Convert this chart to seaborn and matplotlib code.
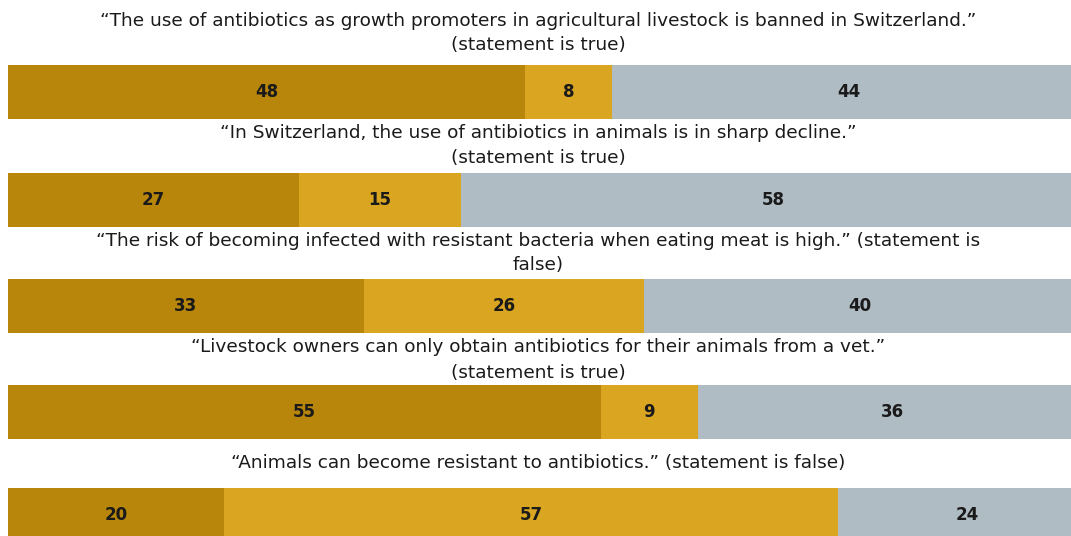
import matplotlib
matplotlib.use("Agg")
import matplotlib.pyplot as plt
import seaborn as sns
import numpy as np

sns.set_theme(style="white")
plt.rcParams['font.family'] = ['DejaVu Sans']

statements = [
    "\u201cThe use of antibiotics as growth promoters in agricultural livestock is banned in Switzerland.\u201d\n(statement is true)",
    "\u201cIn Switzerland, the use of antibiotics in animals is in sharp decline.\u201d\n(statement is true)",
    "\u201cThe risk of becoming infected with resistant bacteria when eating meat is high.\u201d (statement is\nfalse)",
    "\u201cLivestock owners can only obtain antibiotics for their animals from a vet.\u201d\n(statement is true)",
    "\u201cAnimals can become resistant to antibiotics.\u201d (statement is false)",
]
seg1 = [48, 27, 33, 55, 20]
seg2 = [8, 15, 26, 9, 57]
seg3 = [44, 58, 40, 36, 24]

colors = ["#B8860B", "#DAA520", "#B0BCC3"]

W, H = 1071, 536
fig = plt.figure(figsize=(W / 100, H / 100), dpi=100)

bar_tops = [65, 173, 279, 385, 488]
bar_h = 54
title_y = [33, 145.5, 253, 360, 463]
x0_px = 8
unit_px = 10.78

for i in range(5):
    top = bar_tops[i]
    ax = fig.add_axes([x0_px / W, (H - top - bar_h) / H, 100 * unit_px / W, bar_h / H])
    segs = [seg1[i], seg2[i], seg3[i]]
    cums = np.cumsum(segs)
    # draw back-to-front so the stacked look emerges
    for k in (2, 1, 0):
        sns.barplot(x=[cums[k]], y=["s"], orient="h", color=colors[k],
                    saturation=1, width=1, linewidth=0, ax=ax)
    ax.set_xlim(0, 100)
    ax.set_ylim(0.5, -0.5)
    ax.axis("off")
    starts = np.concatenate([[0], cums[:-1]])
    for s, v in zip(starts, segs):
        ax.text(s + v / 2, 0, str(v), ha="center", va="center",
                fontsize=12, fontweight="bold", color="#1a1a1a")
    fig.text(538 / W, 1 - title_y[i] / H, statements[i], ha="center", va="center",
             fontsize=13.3, color="#1a1a1a", linespacing=1.5)

fig.savefig("out.png", dpi=100)
